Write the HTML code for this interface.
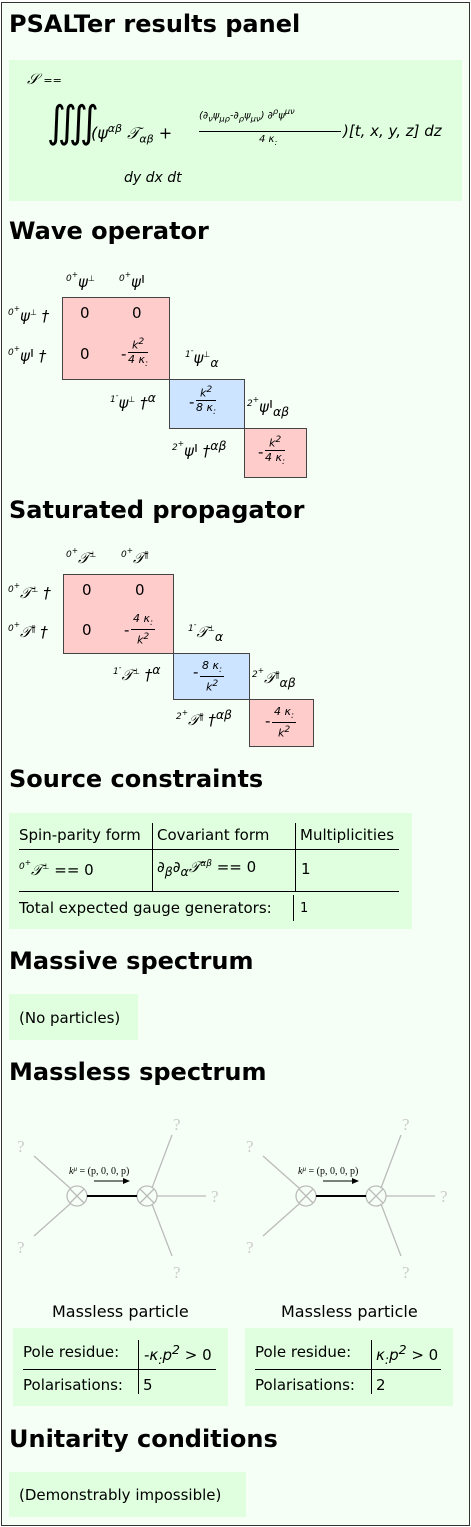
<!DOCTYPE html>
<html><head><meta charset="utf-8">
<style>
body{margin:0;width:471px;height:1527px;background:#fff;font-family:"DejaVu Sans","Liberation Sans",sans-serif;position:relative;overflow:hidden}
.a{position:absolute;white-space:nowrap}
h2{position:absolute;margin:0;font-size:24px;font-weight:bold;left:9px;white-space:nowrap}
.g{position:absolute;background:#dfffdf}
.m{font-style:italic;font-family:"DejaVu Sans","Liberation Sans",sans-serif}
.blk{position:absolute;border:1.5px solid #444;box-sizing:border-box}
.pk{background:#ffcccc}.bl{background:#cce4ff}
.s{font-size:15px}
.fr{position:absolute;text-align:center;font-size:11px;line-height:13px}
.fr .n{border-bottom:1px solid #000;padding:0 2px}
.t{font-size:15px}
.int{position:absolute;top:42px;font-size:36px;font-family:"DejaVu Sans",sans-serif;transform:scaleY(1.2)}
</style></head>
<body>
<div class="a" style="left:1px;top:2px;width:467px;height:1522px;border:1px solid #333;background:#f6fff6"></div>
<h2 style="top:10px">PSALTer results panel</h2>
<div class="g" style="left:9px;top:60px;width:453px;height:141px">
 <div class="a m" style="left:18px;top:10px;font-size:15px">𝒮 <span style="font-style:normal;font-size:11px">==</span></div>
 <div class="int" style="left:38px">∫</div><div class="int" style="left:49px">∫</div><div class="int" style="left:60px">∫</div><div class="int" style="left:71px">∫</div>
 <div class="a m" style="left:82px;top:62px;font-size:16px">(ψ<sup style="font-size:11px">αβ</sup> 𝒯<sub style="font-size:11px">αβ</sub> +</div>
 <div class="a m" style="left:190px;top:46px;font-size:10px">(∂<sub>ν</sub>ψ<sub>μρ</sub>-∂<sub>ρ</sub>ψ<sub>μν</sub>) ∂<sup>ρ</sup>ψ<sup>μν</sup></div>
 <div class="a" style="left:190px;top:71px;width:142px;border-top:1px solid #000"></div>
 <div class="a m" style="left:250px;top:74px;font-size:10px">4 κ<sub>:</sub></div>
 <div class="a m" style="left:334px;top:62px;font-size:15px">)[t, x, y, z] dz</div>
 <div class="a m" style="left:115px;top:110px;font-size:14px">dy dx dt</div>
</div>

<h2 style="top:217px">Wave operator</h2>
<div class="blk pk" style="left:62px;top:297px;width:108px;height:83px"></div>
<div class="blk bl" style="left:169px;top:379px;width:76px;height:50px"></div>
<div class="blk pk" style="left:244px;top:428px;width:63px;height:50px"></div>
<div class="a m s" style="left:66px;top:270px"><sup style="font-size:9px">0<sup>+</sup></sup>ψ<sup style="font-size:8px">⊥</sup></div>
<div class="a m s" style="left:119px;top:270px"><sup style="font-size:9px">0<sup>+</sup></sup>ψ<sup style="font-size:8px">∥</sup></div>
<div class="a m s" style="left:8px;top:304px"><sup style="font-size:9px">0<sup>+</sup></sup>ψ<sup style="font-size:8px">⊥</sup> †</div>
<div class="a m s" style="left:8px;top:344px"><sup style="font-size:9px">0<sup>+</sup></sup>ψ<sup style="font-size:8px">∥</sup> †</div>
<div class="a s" style="left:80px;top:304px">0</div><div class="a s" style="left:132px;top:304px">0</div>
<div class="a s" style="left:80px;top:345px">0</div>
<div class="a s" style="left:121px;top:345px">-</div>
<div class="fr m" style="left:128px;top:335px"><div class="n">k<sup>2</sup></div>4 κ<sub>:</sub></div>
<div class="a m s" style="left:185px;top:346px"><sup style="font-size:9px">1<sup>-</sup></sup>ψ<sup style="font-size:8px">⊥</sup><sub>α</sub></div>
<div class="a m s" style="left:110px;top:390px"><sup style="font-size:9px">1<sup>-</sup></sup>ψ<sup style="font-size:8px">⊥</sup> †<sup>α</sup></div>
<div class="a s" style="left:189px;top:393px">-</div>
<div class="fr m" style="left:196px;top:383px"><div class="n">k<sup>2</sup></div>8 κ<sub>:</sub></div>
<div class="a m s" style="left:247px;top:395px"><sup style="font-size:9px">2<sup>+</sup></sup>ψ<sup style="font-size:8px">∥</sup><sub>αβ</sub></div>
<div class="a m s" style="left:172px;top:438px"><sup style="font-size:9px">2<sup>+</sup></sup>ψ<sup style="font-size:8px">∥</sup> †<sup>αβ</sup></div>
<div class="a s" style="left:258px;top:443px">-</div>
<div class="fr m" style="left:265px;top:433px"><div class="n">k<sup>2</sup></div>4 κ<sub>:</sub></div>

<h2 style="top:496px">Saturated propagator</h2>
<div class="blk pk" style="left:63px;top:574px;width:111px;height:80px"></div>
<div class="blk bl" style="left:173px;top:653px;width:77px;height:47px"></div>
<div class="blk pk" style="left:249px;top:699px;width:65px;height:48px"></div>
<div class="a m s" style="left:66px;top:546px"><sup style="font-size:9px">0<sup>+</sup></sup>𝒯<sup style="font-size:8px">⊥</sup></div>
<div class="a m s" style="left:121px;top:546px"><sup style="font-size:9px">0<sup>+</sup></sup>𝒯<sup style="font-size:8px">∥</sup></div>
<div class="a m s" style="left:8px;top:581px"><sup style="font-size:9px">0<sup>+</sup></sup>𝒯<sup style="font-size:8px">⊥</sup> †</div>
<div class="a m s" style="left:8px;top:620px"><sup style="font-size:9px">0<sup>+</sup></sup>𝒯<sup style="font-size:8px">∥</sup> †</div>
<div class="a s" style="left:82px;top:581px">0</div><div class="a s" style="left:135px;top:581px">0</div>
<div class="a s" style="left:82px;top:621px">0</div>
<div class="a s" style="left:124px;top:621px">-</div>
<div class="fr m" style="left:131px;top:612px"><div class="n">4 κ<sub>:</sub></div>k<sup>2</sup></div>
<div class="a m s" style="left:188px;top:620px"><sup style="font-size:9px">1<sup>-</sup></sup>𝒯<sup style="font-size:8px">⊥</sup><sub>α</sub></div>
<div class="a m s" style="left:113px;top:662px"><sup style="font-size:9px">1<sup>-</sup></sup>𝒯<sup style="font-size:8px">⊥</sup> †<sup>α</sup></div>
<div class="a s" style="left:193px;top:663px">-</div>
<div class="fr m" style="left:200px;top:659px"><div class="n">8 κ<sub>:</sub></div>k<sup>2</sup></div>
<div class="a m s" style="left:252px;top:666px"><sup style="font-size:9px">2<sup>+</sup></sup>𝒯<sup style="font-size:8px">∥</sup><sub>αβ</sub></div>
<div class="a m s" style="left:176px;top:707px"><sup style="font-size:9px">2<sup>+</sup></sup>𝒯<sup style="font-size:8px">∥</sup> †<sup>αβ</sup></div>
<div class="a s" style="left:265px;top:712px">-</div>
<div class="fr m" style="left:272px;top:705px"><div class="n">4 κ<sub>:</sub></div>k<sup>2</sup></div>

<h2 style="top:765px">Source constraints</h2>
<div class="g" style="left:9px;top:813px;width:403px;height:116px">
 <div class="a t" style="left:10px;top:13px">Spin-parity form</div>
 <div class="a t" style="left:148px;top:13px">Covariant form</div>
 <div class="a t" style="left:291px;top:13px">Multiplicities</div>
 <div class="a" style="left:10px;top:36px;width:380px;border-top:1px solid #000"></div>
 <div class="a" style="left:143px;top:10px;height:68px;border-left:1px solid #000"></div>
 <div class="a" style="left:286px;top:10px;height:68px;border-left:1px solid #000"></div>
 <div class="a m t" style="left:10px;top:45px"><sup style="font-size:9px">0<sup>+</sup></sup>𝒯<sup style="font-size:8px">⊥</sup> <span style="font-style:normal">== 0</span></div>
 <div class="a m t" style="left:148px;top:45px">∂<sub>β</sub>∂<sub>α</sub>𝒯<sup style="font-size:9px">αβ</sup> <span style="font-style:normal">== 0</span></div>
 <div class="a t" style="left:292px;top:47px">1</div>
 <div class="a" style="left:10px;top:78px;width:380px;border-top:1px solid #000"></div>
 <div class="a t" style="left:10px;top:86px">Total expected gauge generators:</div>
 <div class="a" style="left:284px;top:82px;height:26px;border-left:1px solid #000"></div>
 <div class="a" style="left:291px;top:88px;font-size:13px">1</div>
</div>

<h2 style="top:947px">Massive spectrum</h2>
<div class="g" style="left:9px;top:994px;width:129px;height:46px"><div class="a t" style="left:10px;top:15px">(No particles)</div></div>

<h2 style="top:1058px">Massless spectrum</h2>
<svg class="a" style="left:0;top:1090px" width="471" height="200">
 <g id="d1" stroke="#bbb" stroke-width="1.3" fill="none">
  <line x1="34" y1="66" x2="70" y2="98"/><line x1="34" y1="146" x2="70" y2="114"/>
  <line x1="172" y1="45" x2="152" y2="98"/><line x1="172" y1="166" x2="152" y2="114"/><line x1="157" y1="106" x2="206" y2="106"/>
  <circle cx="77" cy="106" r="10"/><circle cx="147" cy="106" r="10"/>
  <line x1="70" y1="99" x2="84" y2="113"/><line x1="84" y1="99" x2="70" y2="113"/>
  <line x1="140" y1="99" x2="154" y2="113"/><line x1="154" y1="99" x2="140" y2="113"/>
  <line x1="87" y1="106" x2="137" y2="106" stroke="#000" stroke-width="2"/>
  <line x1="94" y1="91" x2="126" y2="91" stroke="#000" stroke-width="1"/>
  <polygon points="130,91 123,88 123,94" fill="#000" stroke="none"/>
  <g fill="#ccc" stroke="none" font-family="Liberation Serif,serif" font-size="17"><text x="17" y="62">?</text><text x="17" y="163">?</text><text x="173" y="40">?</text><text x="173" y="188">?</text><text x="211" y="112">?</text></g>
  <text x="69" y="84" font-family="Liberation Serif,serif" font-size="10" fill="#000" stroke="none" font-style="italic">k<tspan dy="-3" font-size="7">μ</tspan><tspan dy="3" font-style="normal"> = (p, 0, 0, p)</tspan></text>
 </g>
 <use href="#d1" x="229"/>
</svg>
<div class="a" style="left:52px;top:1302px;font-size:16px">Massless particle</div>
<div class="a" style="left:281px;top:1302px;font-size:16px">Massless particle</div>
<div class="g" style="left:13px;top:1328px;width:215px;height:78px">
 <div class="a t" style="left:10px;top:15px">Pole residue:</div>
 <div class="a m t" style="left:131px;top:14px">-κ<sub>:</sub>p<sup>2</sup> <span style="font-style:normal">&gt; 0</span></div>
 <div class="a" style="left:10px;top:41px;width:193px;border-top:1px solid #000"></div>
 <div class="a" style="left:125px;top:12px;height:54px;border-left:1px solid #000"></div>
 <div class="a t" style="left:10px;top:48px">Polarisations:</div>
 <div class="a t" style="left:130px;top:48px">5</div>
</div>
<div class="g" style="left:245px;top:1328px;width:208px;height:78px">
 <div class="a t" style="left:10px;top:15px">Pole residue:</div>
 <div class="a m t" style="left:131px;top:14px">κ<sub>:</sub>p<sup>2</sup> <span style="font-style:normal">&gt; 0</span></div>
 <div class="a" style="left:10px;top:41px;width:186px;border-top:1px solid #000"></div>
 <div class="a" style="left:126px;top:12px;height:54px;border-left:1px solid #000"></div>
 <div class="a t" style="left:10px;top:48px">Polarisations:</div>
 <div class="a t" style="left:131px;top:48px">2</div>
</div>

<h2 style="top:1425px">Unitarity conditions</h2>
<div class="g" style="left:9px;top:1472px;width:237px;height:45px"><div class="a t" style="left:10px;top:14px">(Demonstrably impossible)</div></div>
</body></html>
